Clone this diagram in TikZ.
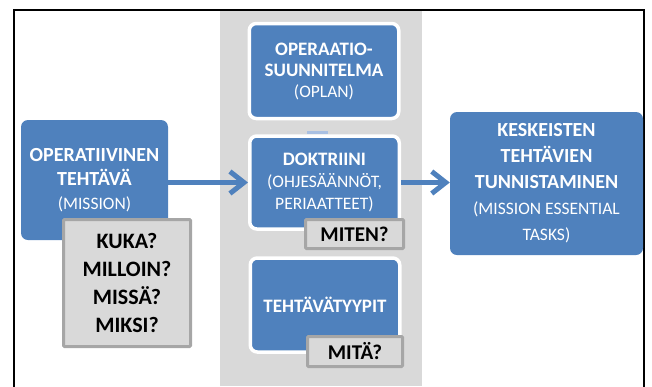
\documentclass[tikz,border=0pt]{standalone}
\usepackage{fontspec}
\setmainfont{Carlito}
\usetikzlibrary{arrows.meta}
\definecolor{boxblue}{HTML}{4F81BD}
\definecolor{colgray}{HTML}{D9D9D9}
\definecolor{qgray}{HTML}{A6A6A6}
\definecolor{faintblue}{HTML}{A9C0E2}
\newcommand{\bt}[1]{\fontsize{#1}{#1}\selectfont\bfseries}
\newcommand{\rt}[1]{{\mdseries\fontsize{#1}{#1}\selectfont #1}}
\begin{document}
\begin{tikzpicture}[x=1pt,y=-1pt,
  bluebox/.style={fill=boxblue, text=white, rounded corners=7pt, inner sep=0pt, align=center},
  colbox/.style={bluebox, draw=white, line width=3.5pt},
  qbox/.style={fill=colgray, draw=qgray, line width=3pt, rounded corners=1pt, inner sep=0pt, align=center, text=black},
  arr/.style={draw=boxblue, line width=5pt, -{Straight Barb[length=14pt,width=22pt]}}]
\useasboundingbox (0,0) rectangle (652,386);
% gray column and frame
\fill[colgray] (220,11) rectangle (422,386);
\draw[black, line width=2pt] (14,387) -- (14,10) -- (644,10) -- (644,387);
\fill[faintblue] (307,131) rectangle (328,133.5);
% left box
\node[bluebox, minimum width=147pt, minimum height=120pt,
  font=\fontsize{20}{24}\selectfont\bfseries] (mission) at (94.5,180)
  {OPERATIIVINEN\\TEHTÄVÄ\\{\mdseries\fontsize{17.5}{24}\selectfont(MISSION)}};
\node[qbox, minimum width=127pt, minimum height=127pt,
  font=\fontsize{22}{27.7}\selectfont\bfseries] (kuka) at (127,283)
  {KUKA?\\MILLOIN?\\MISSÄ?\\MIKSI?};
% column boxes
\node[colbox, minimum width=149.5pt, minimum height=95pt,
  font=\fontsize{19}{21}\selectfont\bfseries] (oplan) at (324,71)
  {OPERAATIO-\\SUUNNITELMA\\{\mdseries\fontsize{17.5}{19}\selectfont(OPLAN)}};
\node[colbox, minimum width=149.5pt, minimum height=93pt,
  font=\fontsize{19}{22}\selectfont\bfseries] (dok) at (324.5,182.5)
  {DOKTRIINI\\{\mdseries\fontsize{17.5}{21}\selectfont(OHJESÄÄNNÖT,}\\{\mdseries\fontsize{17.5}{20}\selectfont PERIAATTEET)}};
\node[qbox, minimum width=98pt, minimum height=29pt,
  font=\fontsize{21}{24}\selectfont\bfseries] (miten) at (354.5,234) {MITEN?};
\node[colbox, minimum width=149.5pt, minimum height=94pt,
  font=\fontsize{19}{22}\selectfont\bfseries] (teht) at (325,305) {TEHTÄVÄTYYPIT};
\node[qbox, minimum width=95pt, minimum height=30pt,
  font=\fontsize{21}{24}\selectfont\bfseries] (mita) at (355,351.5) {MITÄ?};
% right box
\node[bluebox, minimum width=193pt, minimum height=143pt,
  font=\fontsize{20}{26}\selectfont\bfseries] (kes) at (546.5,183.5)
  {KESKEISTEN\\TEHTÄVIEN\\TUNNISTAMINEN\\{\mdseries\fontsize{17.5}{24}\selectfont(MISSION ESSENTIAL}\\{\mdseries\fontsize{17.5}{24}\selectfont TASKS)}};
% arrows
\draw[arr] (mission.east |- dok.west) -- (dok.west);
\draw[arr] (dok.east) -- (dok.east -| kes.west);
\end{tikzpicture}
\end{document}
